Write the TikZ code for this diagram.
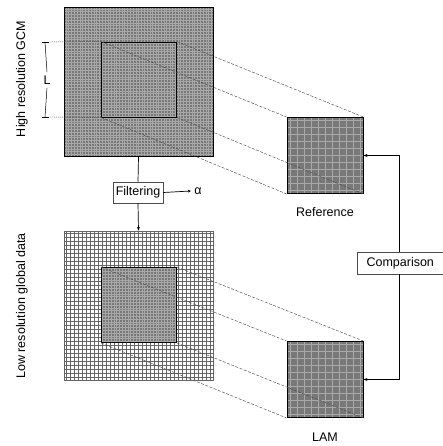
\documentclass[tikz,border=0pt]{standalone}
\usepackage{fontspec}
\setmainfont{Liberation Sans}
\usepackage{tikz}
\usetikzlibrary{arrows.meta}
\definecolor{fieldgray}{gray}{0.47}
\definecolor{gridlight}{gray}{0.66}
\definecolor{griddark}{gray}{0.40}
\tikzset{
  field/.style={draw=black,line width=0.9pt,inner sep=0pt,minimum size=#1,fill=fieldgray},
  finegrid/.style={path picture={
    \draw[gridlight,line width=0.3pt,step=#1]
      (path picture bounding box.south west) grid (path picture bounding box.north east);}},
  coarsegrid/.style={fill=white,path picture={
    \draw[griddark,line width=0.45pt,step=#1]
      (path picture bounding box.south west) grid (path picture bounding box.north east);}},
  procbox/.style={draw=black!70,fill=white,line width=0.5pt,inner xsep=3pt,minimum height=21pt},
  projline/.style={black!70,line width=0.45pt,dash pattern=on 3pt off 1.5pt},
  flow/.style={line width=0.7pt,-{Stealth[length=4pt,width=3pt]}},
}
\begin{document}
\begin{tikzpicture}[x=1pt,y=1pt,font=\fontsize{12.5}{15}\selectfont]
  \useasboundingbox (0,0) rectangle (443,446);

  % global fields
  \node[field=149pt,finegrid=2.8pt] (hires) at (138.5,364.5) {};
  \node[field=149pt,coarsegrid=4pt,draw=black!60,line width=0.5pt] (lores) at (138.5,140.5) {};
  \node[field=75pt,finegrid=2.8pt] (hinner) at (139,366.5) {};
  \node[field=75pt,finegrid=2.8pt] (linner) at (139,141) {};

  % regional fields
  \node[field=76pt,finegrid=7pt] (ref) at (325,290.5) {};
  \node[field=76pt,finegrid=7pt] (lam) at (325,66.5) {};
  \node (reflabel) at (325,234) {Reference};
  \node (lamlabel) at (325,9) {LAM};

  \node[rotate=90] (hilabel) at (22,367) {High resolution GCM};
  \node[rotate=90] (lolabel) at (22,140) {Low resolution global data};

  % projections onto the domains
  \foreach \c in {north west,north east,south west,south east}{
    \draw[projline] (hinner.\c) -- (ref.\c);
    \draw[projline] (linner.\c) -- (lam.\c);
  }

  % domain size
  \coordinate (ltop) at (45,404);
  \coordinate (lbot) at (45,329);
  \node (llabel) at (47,366) {L};
  \draw[line width=0.5pt] (ltop) -- (llabel.north);
  \draw[line width=0.5pt] (llabel.south) -- (lbot);
  \draw[line width=0.5pt] ([xshift=-3pt]ltop) -- ([xshift=4pt]ltop);
  \draw[line width=0.5pt] ([xshift=-3pt]lbot) -- ([xshift=4pt]lbot);
  \draw[projline,dash pattern=on 1pt off 1pt] ([xshift=5pt]ltop) -- (hinner.north west);
  \draw[projline,dash pattern=on 1pt off 1pt] ([xshift=5pt]lbot) -- (hinner.south west);

  % filtering
  \node[procbox] (filt) at (138,253.5) {Filtering};
  \node (alpha) at (198,255) {α};
  \draw[line width=0.7pt] (hires.south) -- (filt.north);
  \draw[flow] (filt.south) -- (lores.north);
  \draw[flow,-{Stealth[length=3pt,width=3pt]}] (filt.east) -- (alpha.west);

  % comparison
  \node[procbox,anchor=west,minimum height=22pt,minimum width=86pt] (comp) at (357,183) {Comparison};
  \coordinate (compbus) at (399,183);
  \draw[flow] (compbus |- comp.north) |- (ref.east);
  \draw[flow] (compbus |- comp.south) |- (lam.east);
\end{tikzpicture}
\end{document}
